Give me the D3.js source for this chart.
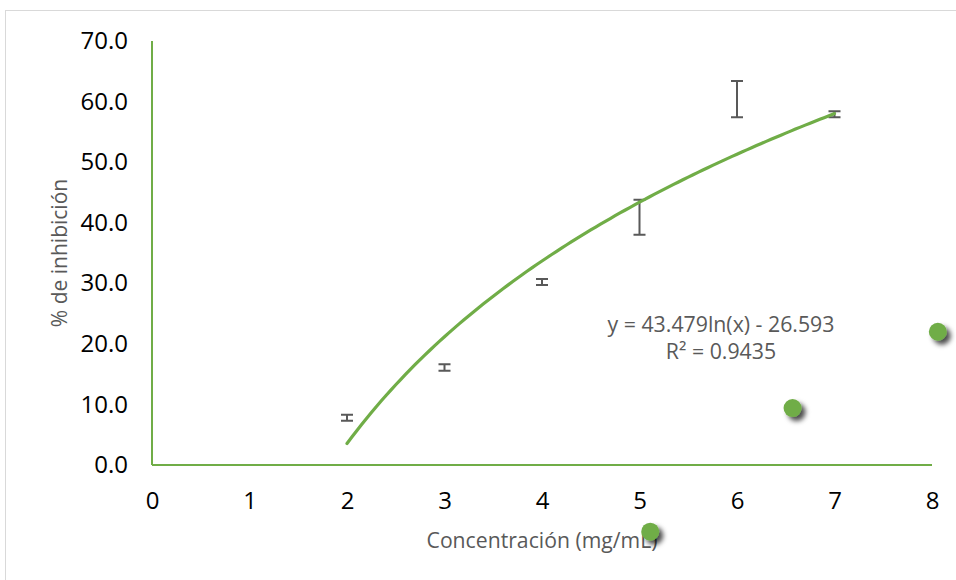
<!DOCTYPE html>
<html>
<head>
<meta charset="utf-8">
<script src="https://cdn.jsdelivr.net/npm/d3@7"></script>
<style>
  html, body { margin: 0; padding: 0; background: #fff; }
  svg { display: block; font-family: "Open Sans", sans-serif; }
</style>
</head>
<body>
<svg id="chart" width="956" height="580"></svg>
<script>
// Concentration levels (mg/mL) and mean % inhibition with error half-widths
const concentrations = [2, 3, 4, 5, 6, 7];
const inhibitionMean = [7.8, 16.1, 30.2, 40.9, 60.4, 57.9];
const inhibitionErr  = [0.5, 0.55, 0.5, 2.9, 3.0, 0.5];

// Logarithmic trendline coefficients: y = a ln(x) + b
const trendA = 43.479;
const trendB = -26.593;
const trendLabel = ["y = 43.479ln(x) - 26.593", "R\u00b2 = 0.9435"];

// Loose marker points floating over the plot area
const looseX = [6.57, 8.06, 5.11];
const looseY = [9.4, 22.0, -11.0];

const xTicks = [0, 1, 2, 3, 4, 5, 6, 7, 8];
const yTicks = [0, 10, 20, 30, 40, 50, 60, 70];

const green = "#70ad47";
const font = "'Open Sans', sans-serif";
const svg = d3.select("#chart");

const defs = svg.append("defs");
const shadow = defs.append("filter").attr("id", "dotShadow")
  .attr("x", "-60%").attr("y", "-60%").attr("width", "260%").attr("height", "260%");
shadow.append("feDropShadow")
  .attr("dx", 4).attr("dy", 4).attr("stdDeviation", 2.5)
  .attr("flood-color", "#000").attr("flood-opacity", 0.7);

// Outer frame
svg.append("rect")
  .attr("x", 5.5).attr("y", 10.5).attr("width", 960).attr("height", 600)
  .attr("fill", "none").attr("stroke", "#d9d9d9").attr("stroke-width", 1);

const x = d3.scaleLinear().domain([0, 8]).range([152, 932]);
const y = d3.scaleLinear().domain([0, 70]).range([465, 41]);

// Axes
const yAxis = svg.append("g").attr("transform", `translate(${x(0)},0)`)
  .call(d3.axisLeft(y).tickValues(yTicks).tickFormat(d3.format(".1f")).tickSize(0).tickPadding(24));
const xAxis = svg.append("g").attr("transform", `translate(0,${y(0)})`)
  .call(d3.axisBottom(x).tickValues(xTicks).tickFormat(d3.format("d")).tickSize(0).tickPadding(27));
[yAxis, xAxis].forEach(g => {
  g.select(".domain").attr("stroke", green).attr("stroke-width", 2);
  g.selectAll("text").attr("fill", "#000").attr("font-size", 24)
    .attr("font-family", font);
});
xAxis.select(".domain").attr("d", `M${x(0)},0H${x(8)}`);
yAxis.select(".domain").attr("d", `M0,${y(70)}V${y(0)}`);

// Axis titles
svg.append("text")
  .attr("x", (x(0) + x(8)) / 2) .attr("y", 548)
  .attr("text-anchor", "middle").attr("fill", "#595959").attr("font-size", 21.2)
  .text("Concentración (mg/mL)");
svg.append("text")
  .attr("transform", `translate(67,${(y(0) + y(70)) / 2}) rotate(-90)`)
  .attr("text-anchor", "middle").attr("fill", "#595959").attr("font-size", 21)
  .text("% de inhibición");

// Error bars
const capHalf = 6;
const bars = svg.append("g").attr("stroke", "#595959").attr("stroke-width", 2).attr("fill", "none");
concentrations.forEach((c, i) => {
  const lo = y(inhibitionMean[i] - inhibitionErr[i]);
  const hi = y(inhibitionMean[i] + inhibitionErr[i]);
  const cx = x(c);
  bars.append("path").attr("d",
    `M${cx},${lo}V${hi}M${cx - capHalf},${hi}H${cx + capHalf}M${cx - capHalf},${lo}H${cx + capHalf}`);
});

// Trendline across the measured range
const xs = d3.range(2, 7.0001, 0.05);
svg.append("path")
  .datum(xs)
  .attr("fill", "none").attr("stroke", green).attr("stroke-width", 3.2)
  .attr("stroke-linecap", "round")
  .attr("d", d3.line().x(d => x(d)).y(d => y(trendA * Math.log(d) + trendB)));

// Trendline equation
const eq = svg.append("text").attr("text-anchor", "middle").attr("fill", "#595959").attr("font-size", 21.3);
trendLabel.forEach((t, i) => {
  eq.append("tspan").attr("x", 721).attr("y", 332 + i * 27).text(t);
});

// Loose markers with drop shadow
svg.append("g").selectAll("circle")
  .data(looseX.map((d, i) => [d, looseY[i]]))
  .join("circle")
  .attr("cx", d => x(d[0])).attr("cy", d => y(d[1]))
  .attr("r", 9).attr("fill", green)
  .attr("filter", "url(#dotShadow)");
</script>
</body>
</html>
